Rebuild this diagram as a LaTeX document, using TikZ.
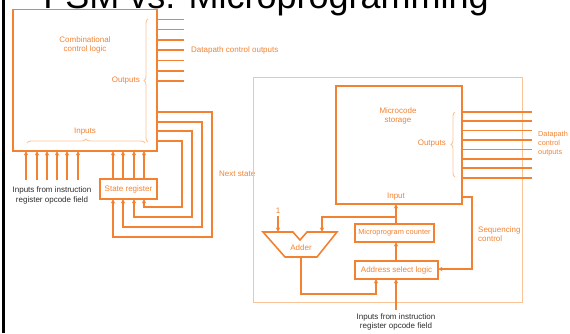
\documentclass[tikz,border=0pt]{standalone}
\usepackage{fontspec}
\setmainfont{Liberation Sans}
\usetikzlibrary{arrows.meta,decorations.pathreplacing}
\definecolor{org}{RGB}{242,130,50}
\definecolor{peach}{RGB}{251,196,150}
\definecolor{dk}{RGB}{45,45,45}
\begin{document}
\begin{tikzpicture}[x=1pt,y=-1pt,
  ln/.style={draw=org,line width=1.6pt},
  arr/.style={ln,-{Stealth[length=4.5pt,width=4.2pt]}},
  lbl/.style={text=org,font=\fontsize{8}{9.5}\selectfont,inner sep=0pt},
  dlbl/.style={text=dk,font=\fontsize{8}{10}\selectfont,inner sep=0pt,align=center},
  brc/.style={draw=peach,line width=0.9pt,decorate,decoration={brace,amplitude=4pt}},
  blk/.style={draw=org,line width=1.6pt,inner sep=0pt,outer sep=0pt}
]
\useasboundingbox (0,0) rectangle (570,333);
\fill[black] (1.5,0) rectangle (5,333);
\node[font=\fontsize{36}{40}\selectfont,anchor=base,inner sep=0pt] (title) at (266,8) {FSM vs. Microprogramming};

% ---------------- left: FSM ----------------
\node[blk,minimum width=144pt,minimum height=141.5pt] (ccl) at (85,80.25) {};
\node[lbl,align=center] (cclt) at (85,45) {Combinational\\control logic};
\foreach \i in {0,...,6}{
  \pgfmathsetmacro{\yy}{19.3+\i*10.28}
  \coordinate (co\i) at (184,\yy);
  \draw[ln] (co\i -| ccl.east) -- (co\i);
}
\node[lbl,anchor=west] (dco) at (191,50) {Datapath control outputs};
\draw[brc] (148,142) -- (148,19);
\node[lbl,anchor=east] (outl) at (140,81) {Outputs};
\draw[brc] (27,143) -- (145,143);
\node[lbl] (inl) at (85,132) {Inputs};

\node[blk,minimum width=57pt,minimum height=20pt] (sr) at (128.5,189) {};
\node[lbl] (srt) at (sr.center) {State register};

\foreach \x [count=\k] in {26,37,47,57,67,78}{
  \coordinate (i\k) at (\x,180);
  \draw[arr] (i\k) -- (i\k |- ccl.south);
}
\node[dlbl] (irin) at (52,195) {Inputs from instruction\\register opcode field};

\foreach \oy/\tx/\by/\ex [count=\k] in {112/212/237/113, 122/202/227/123, 131/192/217/134, 141/182/207/144}{
  \coordinate (n\k) at (\tx,\oy);
  \coordinate (d\k) at (\ex,\by);
  \coordinate (b\k) at (\ex,0);
  \draw[arr] (n\k -| ccl.east) -- (n\k) -- (n\k |- d\k) -- (d\k) -- (d\k |- sr.south);
  \draw[arr] (b\k |- sr.north) -- (b\k |- ccl.south);
}
\node[lbl,anchor=west] (nst) at (219,174) {Next state};

% ---------------- right: microprogramming ----------------
\node[draw=peach,line width=1pt,minimum width=269pt,minimum height=225pt,inner sep=0pt] (big) at (387.5,189.5) {};
\node[blk,minimum width=126pt,minimum height=118pt] (mcs) at (399,145) {};
\node[lbl,align=center] (mcst) at (398,116) {Microcode\\storage};
\node[lbl] (mcin) at (396,197) {Input};
\foreach \i in {0,...,7}{
  \pgfmathsetmacro{\yy}{111.7+\i*9.43}
  \coordinate (mo\i) at (532,\yy);
  \draw[ln] (mo\i -| mcs.east) -- (mo\i);
}
\draw[brc] (455,177) -- (455,112);
\node[lbl,anchor=east] (mout) at (446,144) {Outputs};
\node[lbl,anchor=west,align=left,font=\fontsize{7.3}{9}\selectfont] (mdco) at (538,144) {Datapath\\control\\outputs};

\node[blk,minimum width=79pt,minimum height=18pt] (mpc) at (394.5,233) {};
\node[lbl,font=\fontsize{7.4}{9}\selectfont] (mpct) at (mpc.center) {Microprogram counter};
\node[blk,minimum width=83pt,minimum height=18pt] (asl) at (396.5,270) {};
\node[lbl] (aslt) at (asl.center) {Address select logic};

\coordinate (vx) at (396,0);
\draw[arr] (vx |- asl.north) -- (vx |- mpc.south);
\draw[arr] (vx |- mpc.north) -- (vx |- mcs.south);

% adder
\coordinate (a1) at (263,232);
\coordinate (a2) at (293,232);
\coordinate (a3) at (300,240);
\coordinate (a4) at (307,232);
\coordinate (a5) at (337,232);
\coordinate (a6) at (317,257);
\coordinate (a7) at (285,257);
\draw[ln,line join=miter] (a1) -- (a2) -- (a3) -- (a4) -- (a5) -- (a6) -- (a7) -- cycle;
\node[lbl] (addt) at (301,248) {Adder};
\node[lbl] (one) at (278,211) {1};
\coordinate (onetop) at (278,216);
\draw[arr] (onetop) -- (onetop |- a1);
\coordinate (j) at (396,217);
\coordinate (bt) at (322,232);
\draw[arr] (j) -| (bt);
\coordinate (ao) at (301,257);
\coordinate (al) at (301,294);
\coordinate (ar) at (376,294);
\draw[arr] (ao) -- (al) -- (ar) -- (ar |- asl.south);

% sequencing control
\coordinate (s1) at (472,197);
\coordinate (s2) at (472,269);
\draw[arr] (s1 -| mcs.east) -- (s1) -- (s2) -- (s2 -| asl.east);
\node[lbl,anchor=west,align=left,font=\fontsize{8}{8.5}\selectfont] (seq) at (478,234) {Sequencing\\control};

% bottom input
\coordinate (bi) at (396,310);
\draw[arr] (bi) -- (bi |- asl.south);
\node[dlbl,font=\fontsize{8}{9}\selectfont] (irin2) at (396,322) {Inputs from instruction\\register opcode field};
\end{tikzpicture}
\end{document}
